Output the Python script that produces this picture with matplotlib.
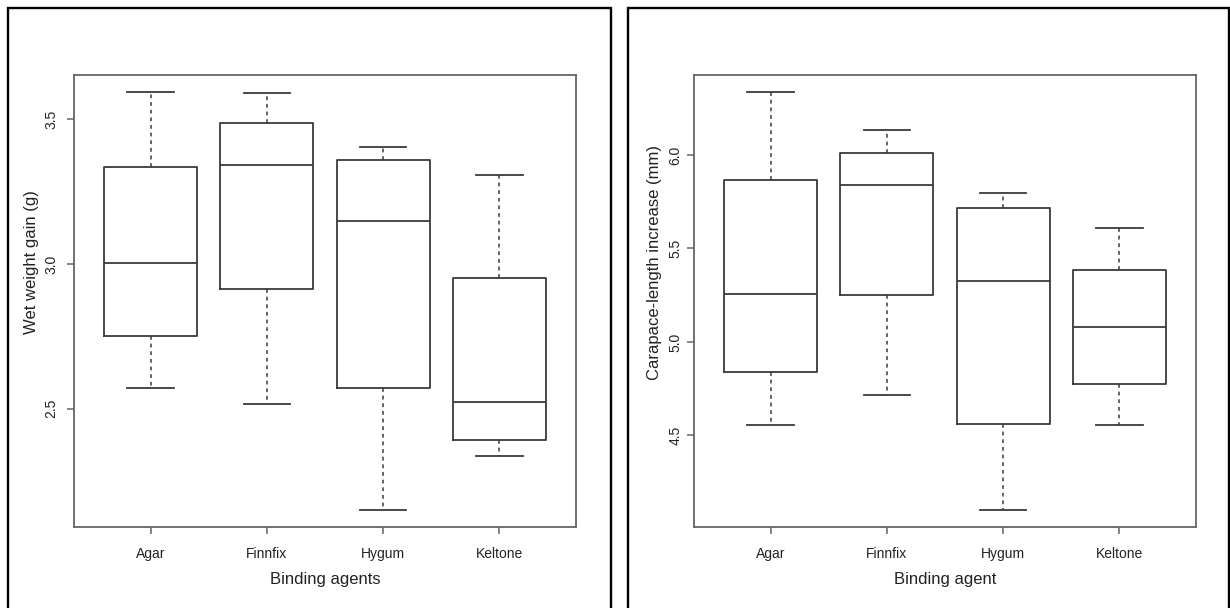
import matplotlib
matplotlib.use('Agg')
import matplotlib.pyplot as plt
from matplotlib.lines import Line2D

plt.rcParams['font.family'] = ['Liberation Sans', 'DejaVu Sans']

# ---------------- data ----------------
categories = ['Agar', 'Finnfix', 'Hygum', 'Keltone']

# Left panel: wet weight gain (g)
wet_low = [2.572, 2.516, 2.149, 2.335]
wet_q1 = [2.752, 2.914, 2.572, 2.391]
wet_med = [3.005, 3.343, 3.150, 2.523]
wet_q3 = [3.336, 3.487, 3.358, 2.953]
wet_high = [3.595, 3.592, 3.405, 3.308]
wet_ticks = [2.5, 3.0, 3.5]
wet_ticklabels = ['2.5', '3.0', '3.5']

# Right panel: carapace-length increase (mm)
car_low = [4.556, 4.714, 4.100, 4.556]
car_q1 = [4.838, 5.251, 4.562, 4.776]
car_med = [5.255, 5.838, 5.324, 5.079]
car_q3 = [5.867, 6.010, 5.714, 5.384]
car_high = [6.338, 6.135, 5.797, 5.612]
car_ticks = [4.5, 5.0, 5.5, 6.0]
car_ticklabels = ['4.5', '5.0', '5.5', '6.0']

W, H = 1230, 608
fig = plt.figure(figsize=(W / 100, H / 100), dpi=100)

box_col = '#3a3a3a'
axis_col = '#666666'
text_col = '#222222'


def make_panel(rect, low, q1, med, q3, high, ticks, ticklabels, ylabel, xlabel, ypad, ylab_off):
    ax = fig.add_axes(rect)
    stats = []
    for i, name in enumerate(categories):
        stats.append(dict(label=name, whislo=low[i], q1=q1[i], med=med[i],
                          q3=q3[i], whishi=high[i], fliers=[]))
    ax.bxp(stats, positions=range(1, len(categories) + 1), widths=0.8,
           capwidths=0.4, showfliers=False,
           boxprops=dict(color=box_col, linewidth=1.3),
           medianprops=dict(color=box_col, linewidth=1.3),
           whiskerprops=dict(color=box_col, linewidth=1.1, linestyle=(0, (2.5, 2.5))),
           capprops=dict(color=box_col, linewidth=1.3))
    lo, hi = min(low), max(high)
    ext = 0.04 * (hi - lo)
    ax.set_ylim(lo - ext, hi + ext)
    ax.set_xlim(0.34, len(categories) + 0.66)
    ax.set_xticks(range(1, len(categories) + 1))
    ax.set_xticklabels(categories, fontsize=10, color=text_col)
    ax.set_yticks(ticks)
    ax.set_yticklabels(ticklabels, rotation=90, va='center', fontsize=10, color=text_col)
    ax.tick_params(axis='x', length=5, width=1.1, color=axis_col, pad=9.5)
    ax.tick_params(axis='y', length=5, width=1.1, color=axis_col, pad=ypad)
    for s in ax.spines.values():
        s.set_color(axis_col)
        s.set_linewidth(1.3)
    ax.set_ylabel(ylabel, fontsize=12, color=text_col)
    ax.yaxis.label.set_verticalalignment('center')
    ax.yaxis.set_label_coords(-ylab_off / 502, (527 - 262) / 452)
    ax.set_xlabel(xlabel, fontsize=12, color=text_col)
    ax.xaxis.label.set_verticalalignment('center')
    ax.xaxis.set_label_coords(0.5, -(579.5 - 527) / 452)
    return ax


def frac_rect(x0, y0, x1, y1):
    return [x0 / W, 1 - y1 / H, (x1 - x0) / W, (y1 - y0) / H]


make_panel(frac_rect(74, 75, 576, 527), wet_low, wet_q1, wet_med, wet_q3, wet_high,
           wet_ticks, wet_ticklabels, 'Wet weight gain (g)', 'Binding agents', 6, 42)
make_panel(frac_rect(694, 75, 1196, 527), car_low, car_q1, car_med, car_q3, car_high,
           car_ticks, car_ticklabels, 'Carapace-length increase (mm)', 'Binding agent', 3.5, 40)

# outer black frames (left, top, right edges)
lw_frame = 1.7
for (x0, x1) in [(7.5, 611), (628, 1228.5)]:
    xs = [x0 / W, x0 / W, x1 / W, x1 / W]
    ys = [0, 1 - 7.5 / H, 1 - 7.5 / H, 0]
    fig.add_artist(Line2D(xs, ys, transform=fig.transFigure, color='black',
                          linewidth=lw_frame, solid_joinstyle='miter'))

fig.savefig('out.png', dpi=100)
